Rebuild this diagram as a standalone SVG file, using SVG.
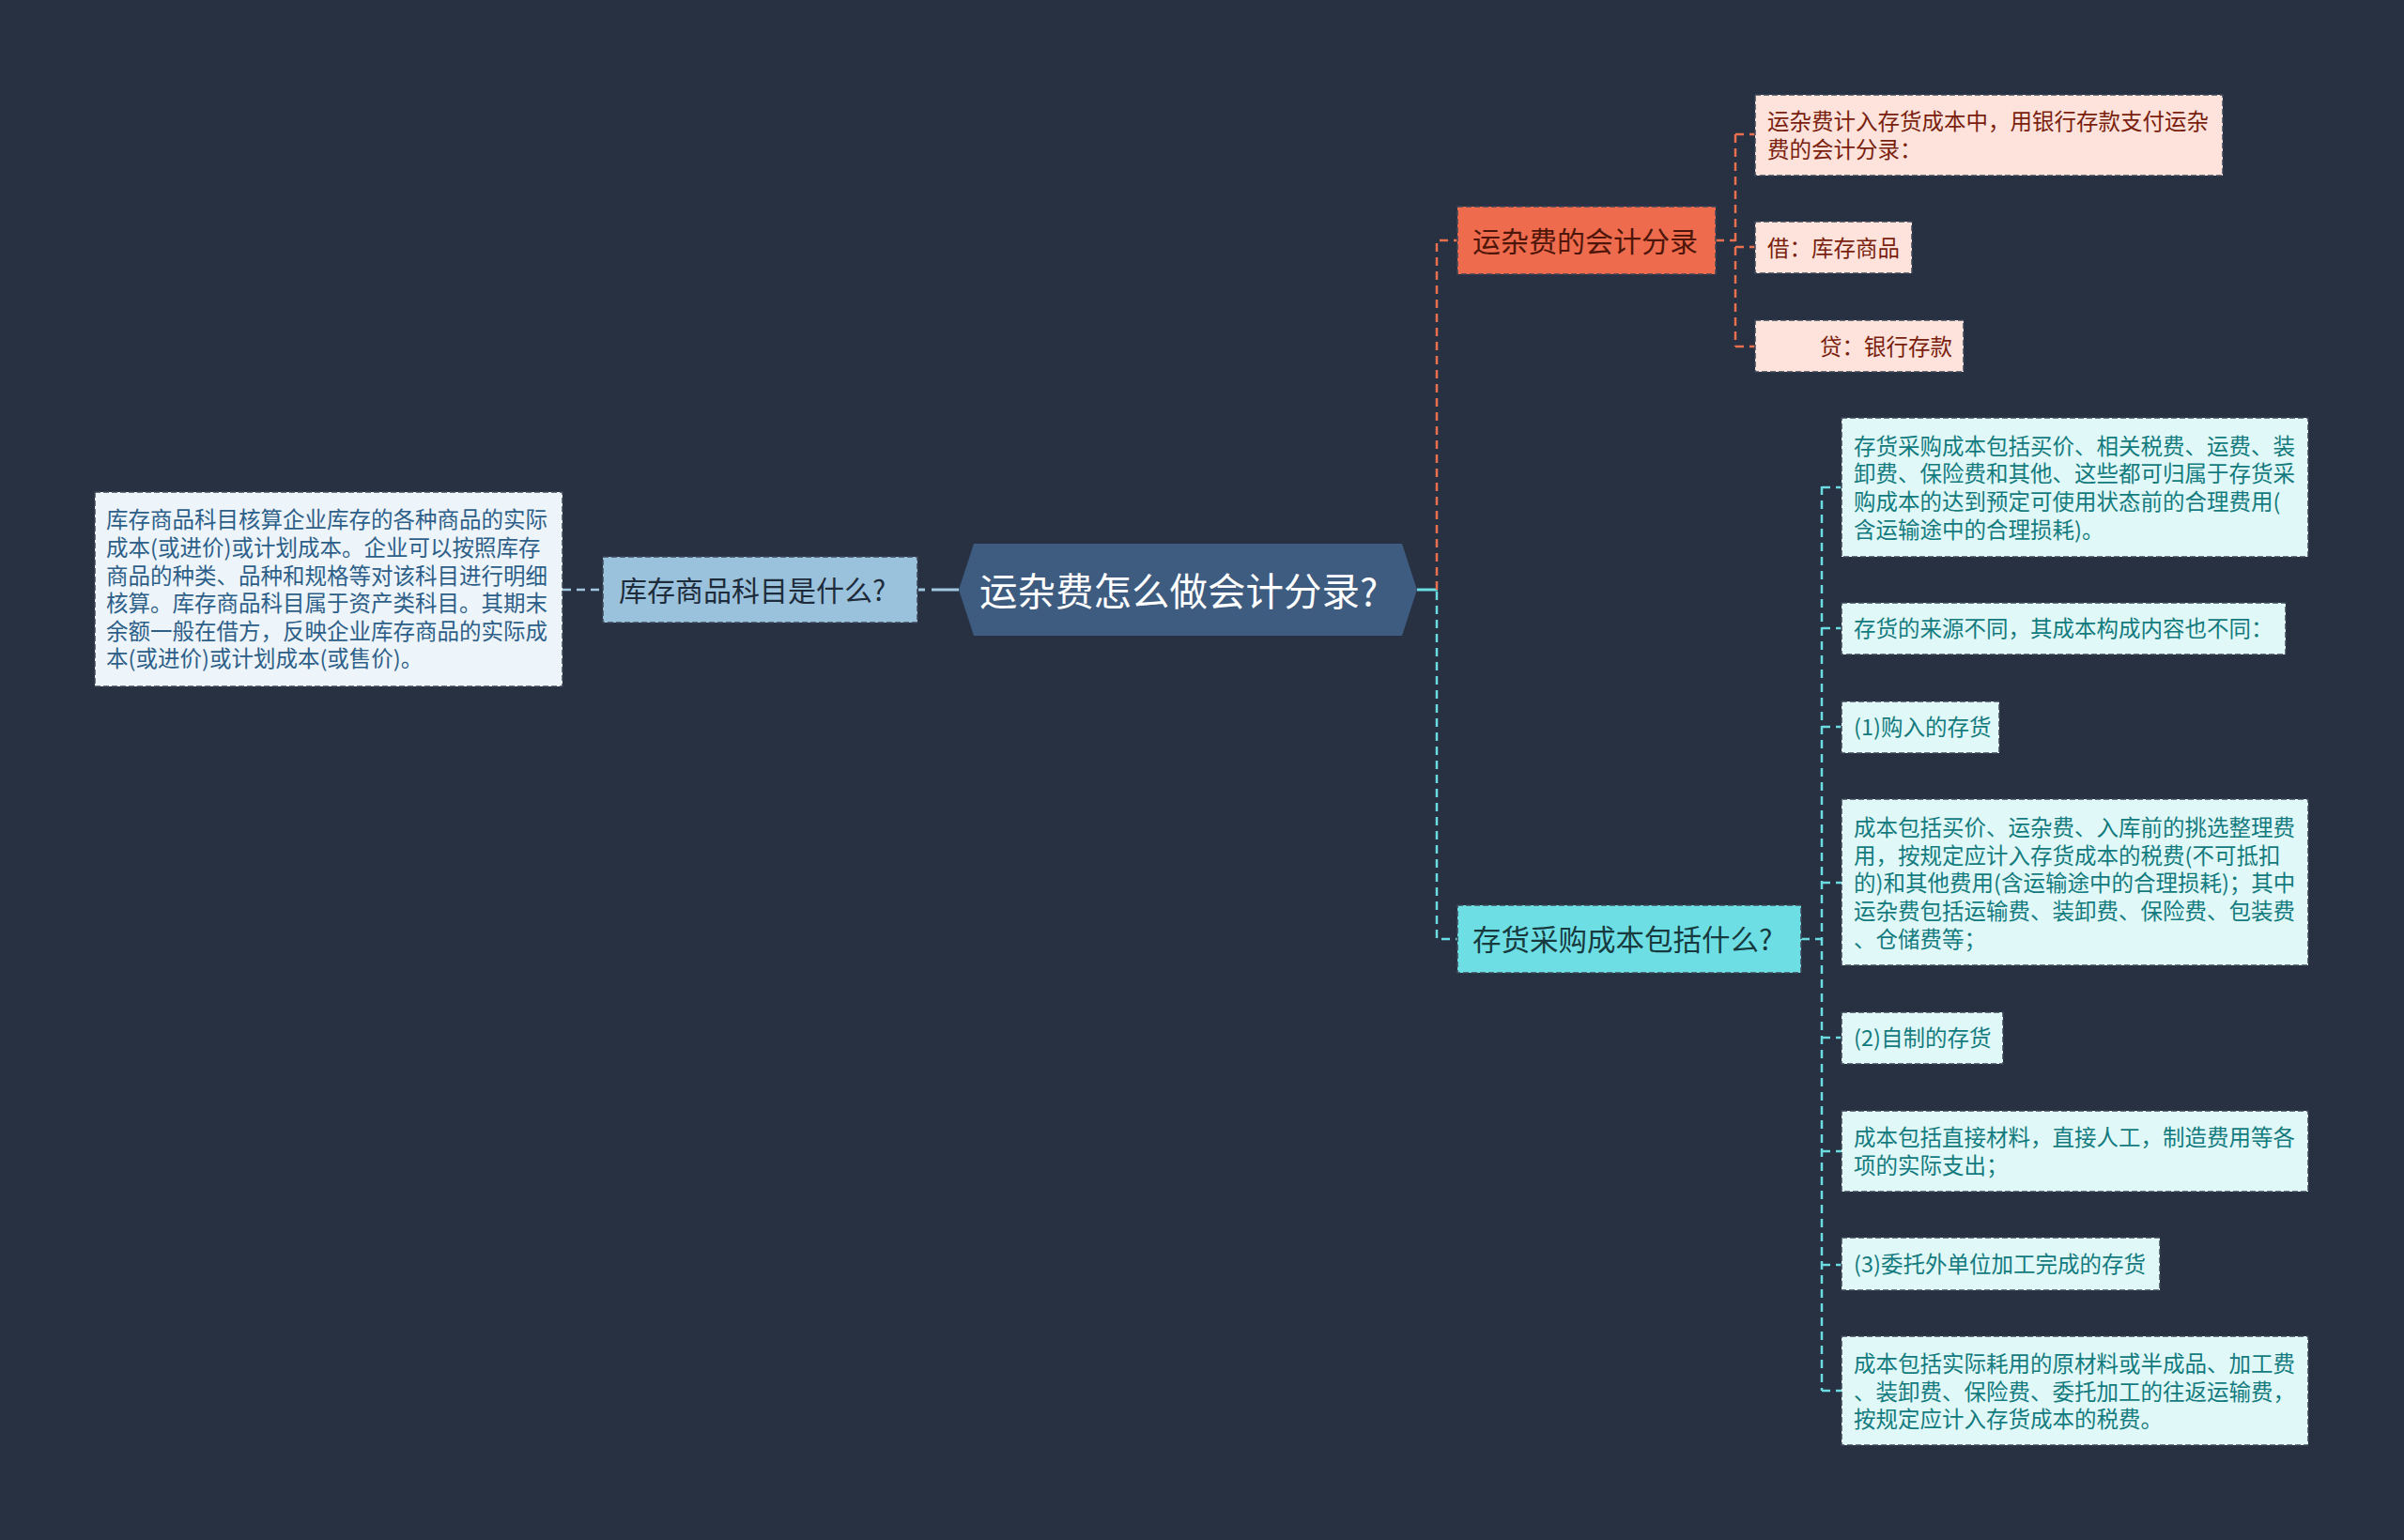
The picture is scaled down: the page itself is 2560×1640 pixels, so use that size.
<svg xmlns="http://www.w3.org/2000/svg" width="2560" height="1640" viewBox="0 0 2560 1640">
<style>
text{font-family:"Noto Sans CJK SC","Noto Sans",sans-serif;dominant-baseline:central}
.box{stroke:#3c4656;stroke-width:1.5;stroke-dasharray:6 3}
.leaf{font-size:23.5px}
.blue{fill:#2d5f88}
.red{fill:#7a1e0e}
.teal{fill:#137b7e}
.cl{fill:none;stroke-width:2.5;stroke-dasharray:9 6}
.co{stroke:#e8704f}
.cc{stroke:#6adce2}
.cb{stroke:#a3c7df}
</style>
<rect width="2560" height="1640" fill="#283142"/>
<g id="connectors">
  <line class="cl cb" x1="599" y1="628" x2="642" y2="628"/>
  <line x1="978" y1="628" x2="985" y2="628" stroke="#a3c7df" stroke-width="3"/>
  <line x1="992" y1="628" x2="1021" y2="628" stroke="#a3c7df" stroke-width="3"/>
  <line x1="1509" y1="628" x2="1531" y2="628" stroke="#6adce2" stroke-width="3"/>
  <path class="cl co" d="M1530,628 V256 H1552"/>
  <path class="cl cc" d="M1530,630 V1000 H1552"/>
  <path class="cl co" d="M1827,256 H1848"/>
  <path class="cl co" d="M1848,143 V369"/>
  <path class="cl co" d="M1848,143 H1869 M1848,263 H1869 M1848,369 H1869"/>
  <path class="cl cc" d="M1918,1000 H1940"/>
  <path class="cl cc" d="M1940,518 V1481"/>
  <path class="cl cc" d="M1940,519 H1961 M1940,669 H1961 M1940,774 H1961 M1940,940 H1961 M1940,1105 H1961 M1940,1226 H1961 M1940,1347 H1961 M1940,1481 H1961"/>
</g>
<g id="center">
  <polygon points="1021,628 1037,579 1493,579 1509,628 1493,677 1037,677" fill="#3e5b80"/>
  <text x="1043" y="627" font-size="40.5" fill="#ffffff">运杂费怎么做会计分录?</text>
</g>
<g id="n-kucun">
  <rect class="box" x="642" y="593" width="335" height="70" fill="#9bc2dc"/>
  <text x="659" y="627" font-size="30" fill="#1d2b3a">库存商品科目是什么?</text>
</g>
<g id="n-kucun-desc">
  <rect class="box" x="101" y="524" width="498" height="207" fill="#edf4fa"/>
  <text class="leaf blue" x="113"><tspan x="113" y="552">库存商品科目核算企业库存的各种商品的实际</tspan><tspan x="113" y="582">成本(或进价)或计划成本。企业可以按照库存</tspan><tspan x="113" y="612">商品的种类、品种和规格等对该科目进行明细</tspan><tspan x="113" y="641">核算。库存商品科目属于资产类科目。其期末</tspan><tspan x="113" y="671">余额一般在借方，反映企业库存商品的实际成</tspan><tspan x="113" y="700">本(或进价)或计划成本(或售价)。</tspan></text>
</g>
<g id="n-yunza">
  <rect class="box" x="1552" y="220" width="275" height="72" fill="#ee6b4d"/>
  <text x="1568" y="255" font-size="30" fill="#4e1609">运杂费的会计分录</text>
</g>
<g id="n-yunza-1">
  <rect class="box" x="1869" y="101" width="498" height="86" fill="#fde3dc"/>
  <text class="leaf red"><tspan x="1882" y="128">运杂费计入存货成本中，用银行存款支付运杂</tspan><tspan x="1882" y="158">费的会计分录：</tspan></text>
</g>
<g id="n-yunza-2">
  <rect class="box" x="1869" y="236" width="167" height="55" fill="#fde3dc"/>
  <text class="leaf red" x="1882" y="263">借：库存商品</text>
</g>
<g id="n-yunza-3">
  <rect class="box" x="1869" y="341" width="222" height="55" fill="#fde3dc"/>
  <text class="leaf red" x="1938" y="368">贷：银行存款</text>
</g>
<g id="n-caigou">
  <rect class="box" x="1552" y="964" width="366" height="72" fill="#6ddfe4"/>
  <text x="1568" y="999" font-size="30.5" fill="#173a3e">存货采购成本包括什么?</text>
</g>
<g id="n-caigou-1">
  <rect class="box" x="1961" y="445" width="497" height="148" fill="#e1f8f8"/>
  <text class="leaf teal"><tspan x="1974" y="474">存货采购成本包括买价、相关税费、运费、装</tspan><tspan x="1974" y="503">卸费、保险费和其他、这些都可归属于存货采</tspan><tspan x="1974" y="533">购成本的达到预定可使用状态前的合理费用(</tspan><tspan x="1974" y="563">含运输途中的合理损耗)。</tspan></text>
</g>
<g id="n-caigou-2">
  <rect class="box" x="1961" y="642" width="473" height="55" fill="#e1f8f8"/>
  <text class="leaf teal" x="1974" y="668">存货的来源不同，其成本构成内容也不同：</text>
</g>
<g id="n-caigou-3">
  <rect class="box" x="1961" y="747" width="168" height="55" fill="#e1f8f8"/>
  <text class="leaf teal" x="1974" y="773">(1)购入的存货</text>
</g>
<g id="n-caigou-4">
  <rect class="box" x="1961" y="851" width="497" height="177" fill="#e1f8f8"/>
  <text class="leaf teal"><tspan x="1974" y="880">成本包括买价、运杂费、入库前的挑选整理费</tspan><tspan x="1974" y="910">用，按规定应计入存货成本的税费(不可抵扣</tspan><tspan x="1974" y="939">的)和其他费用(含运输途中的合理损耗)；其中</tspan><tspan x="1974" y="969">运杂费包括运输费、装卸费、保险费、包装费</tspan><tspan x="1974" y="999">、仓储费等；</tspan></text>
</g>
<g id="n-caigou-5">
  <rect class="box" x="1961" y="1078" width="172" height="55" fill="#e1f8f8"/>
  <text class="leaf teal" x="1974" y="1104">(2)自制的存货</text>
</g>
<g id="n-caigou-6">
  <rect class="box" x="1961" y="1183" width="497" height="86" fill="#e1f8f8"/>
  <text class="leaf teal"><tspan x="1974" y="1210">成本包括直接材料，直接人工，制造费用等各</tspan><tspan x="1974" y="1240">项的实际支出；</tspan></text>
</g>
<g id="n-caigou-7">
  <rect class="box" x="1961" y="1318" width="339" height="56" fill="#e1f8f8"/>
  <text class="leaf teal" x="1974" y="1345">(3)委托外单位加工完成的存货</text>
</g>
<g id="n-caigou-8">
  <rect class="box" x="1961" y="1423" width="497" height="116" fill="#e1f8f8"/>
  <text class="leaf teal"><tspan x="1974" y="1451">成本包括实际耗用的原材料或半成品、加工费</tspan><tspan x="1974" y="1481">、装卸费、保险费、委托加工的往返运输费，</tspan><tspan x="1974" y="1510">按规定应计入存货成本的税费。</tspan></text>
</g>
</svg>
